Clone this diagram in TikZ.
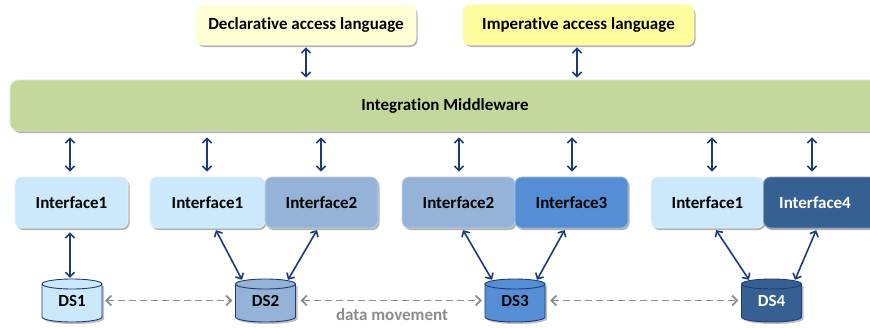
\documentclass[tikz,border=0pt]{standalone}
\usepackage{fontspec}
\setmainfont[Ligatures={NoCommon}]{Carlito}
\usetikzlibrary{arrows.meta,shadows,calc}
\definecolor{navy}{HTML}{1F3A7A}
\definecolor{declfill}{HTML}{FFFFD6}
\definecolor{impfill}{HTML}{FDFD9E}
\definecolor{midfill}{HTML}{C4D79D}
\definecolor{ifa}{HTML}{CCE9FB}
\definecolor{ifb}{HTML}{95B3D7}
\definecolor{ifc}{HTML}{558ED5}
\definecolor{ifd}{HTML}{376092}
\definecolor{dmgray}{HTML}{8C8C8C}
\newcommand{\dbcyl}[5]{%
  \fill[black,opacity=0.25] (#2-28,#3+14.5) -- (#2-28,#3-18.5) arc[start angle=180,end angle=360,x radius=30,y radius=5] -- (#2+32,#3+14.5) -- cycle;
  \filldraw[fill=#4, draw=navy, line width=0.9pt] (#2-30,#3+16.5) -- (#2-30,#3-16.5) arc[start angle=180,end angle=360,x radius=30,y radius=5] -- (#2+30,#3+16.5) arc[start angle=0,end angle=180,x radius=30,y radius=5] -- cycle;
  \draw[navy, line width=0.9pt] (#2+30,#3+16.5) arc[start angle=0,end angle=-180,x radius=30,y radius=5];
  \node[inner sep=0pt, minimum width=60pt, minimum height=43pt, text=#5] (#1) at (#2,#3) {\raisebox{-2.5pt}{#1}};
}
\begin{document}
\begin{tikzpicture}[x=1pt,y=1pt,
  font=\fontsize{17}{19}\selectfont\bfseries,
  shad/.style={drop shadow={shadow xshift=1.5pt, shadow yshift=-2pt, fill=black, opacity=0.3}},
  langbox/.style={rounded corners=7pt, minimum height=40pt, inner sep=0pt, draw=#1!70!white, line width=0.8pt, fill=#1, shad},
  ifbox/.style={rounded corners=7pt, minimum width=113pt, minimum height=51pt, inner sep=0pt, draw=#1!60!white, line width=0.8pt, fill=#1, shad},
  biarrow/.style={{Straight Barb[length=4.5pt,width=9pt]}-{Straight Barb[length=4.5pt,width=9pt]}, draw=navy, line width=1.6pt},
  dmarrow/.style={{Straight Barb[length=5pt,width=10pt]}-{Straight Barb[length=5pt,width=10pt]}, draw=dmgray, line width=1.7pt, dash pattern=on 7pt off 4pt}]
\useasboundingbox (0,0) rectangle (870,-327);
\fill[white] (0,0) rectangle (870,-327);
% language boxes
\node[langbox=declfill, minimum width=220pt] (decl) at (306,-25) {Declarative access language};
\node[langbox=impfill, minimum width=231pt] (imp) at (578.5,-25) {Imperative access language};
% middleware
\node[rounded corners=9pt, minimum width=870pt, minimum height=51pt, inner sep=0pt, fill=midfill, draw=midfill!60!white, line width=0.8pt, shad] (mid) at (445,-105.5) {Integration Middleware};
% interfaces
\node[ifbox=ifa] (IA) at (71.5,-202.5) {Interface1};
\node[ifbox=ifa, minimum width=115pt] (IB1) at (207.5,-202.5) {Interface1};
\node[ifbox=ifb] (IB2) at (321.5,-202.5) {Interface2};
\node[ifbox=ifb] (IC2) at (458.5,-202.5) {Interface2};
\node[ifbox=ifc] (IC3) at (571.5,-202.5) {Interface3};
\node[ifbox=ifa] (ID1) at (707.5,-202.5) {Interface1};
\node[ifbox=ifd, text=white] (ID4) at (820,-202.5) {\hspace*{-10pt}Interface4};
% data stores
\dbcyl{DS1}{72}{-300.5}{ifa}{black}
\dbcyl{DS2}{265.5}{-300.5}{ifb}{black}
\dbcyl{DS3}{515}{-300.5}{ifc}{black}
\dbcyl{DS4}{771.5}{-300.5}{ifd}{white}
% arrows language -> middleware
\draw[biarrow, shorten <=2pt, shorten >=2pt] (decl.south) -- (decl.south |- mid.north);
\draw[biarrow, shorten <=2pt, shorten >=2pt] ([xshift=-1.5pt]imp.south) -- ([xshift=-1.5pt]imp.south |- mid.north);
% arrows middleware -> interfaces
\foreach \n/\dx in {IA/-1.5, IB1/-0.5, IB2/-0.5, IC2/0.5, IC3/0.5, ID1/4.5, ID4/-8} {
  \draw[biarrow, shorten <=6pt, shorten >=5pt] ([xshift=\dx pt]\n.north |- mid.south) -- ([xshift=\dx pt]\n.north);
}
% arrows interfaces -> data stores
\draw[biarrow, shorten <=4pt, shorten >=1pt] ([xshift=-1.5pt]IA.south) -- ([xshift=-2pt]DS1.north);
\draw[biarrow, shorten <=2pt] ([xshift=7.5pt]IB1.south) -- ([xshift=-23.5pt,yshift=-1pt]DS2.north);
\draw[biarrow, shorten <=2pt] ([xshift=-3.5pt]IB2.south) -- ([xshift=22.5pt,yshift=-1pt]DS2.north);
\draw[biarrow, shorten <=2pt] ([xshift=3.5pt]IC2.south) -- ([xshift=-23pt,yshift=-1pt]DS3.north);
\draw[biarrow, shorten <=2pt] ([xshift=-6pt]IC3.south) -- ([xshift=22pt,yshift=-1pt]DS3.north);
\draw[biarrow, shorten <=2pt] ([xshift=7.5pt]ID1.south) -- ([xshift=-22.5pt,yshift=-1pt]DS4.north);
\draw[biarrow, shorten <=2pt] ([xshift=-3pt]ID4.south) -- ([xshift=23.5pt,yshift=-1pt]DS4.north);
% data movement
\draw[dmarrow, shorten <=3pt, shorten >=3pt] (DS1.east) -- (DS2.west);
\draw[dmarrow, shorten <=5pt, shorten >=3pt] (DS2.east) -- (DS3.west);
\draw[dmarrow, shorten <=5pt, shorten >=3pt] (DS3.east) -- (DS4.west);
\node[text=dmgray, font=\fontsize{17}{19}\selectfont\bfseries] (dm) at (392,-315) {data movement};
\end{tikzpicture}
\end{document}
